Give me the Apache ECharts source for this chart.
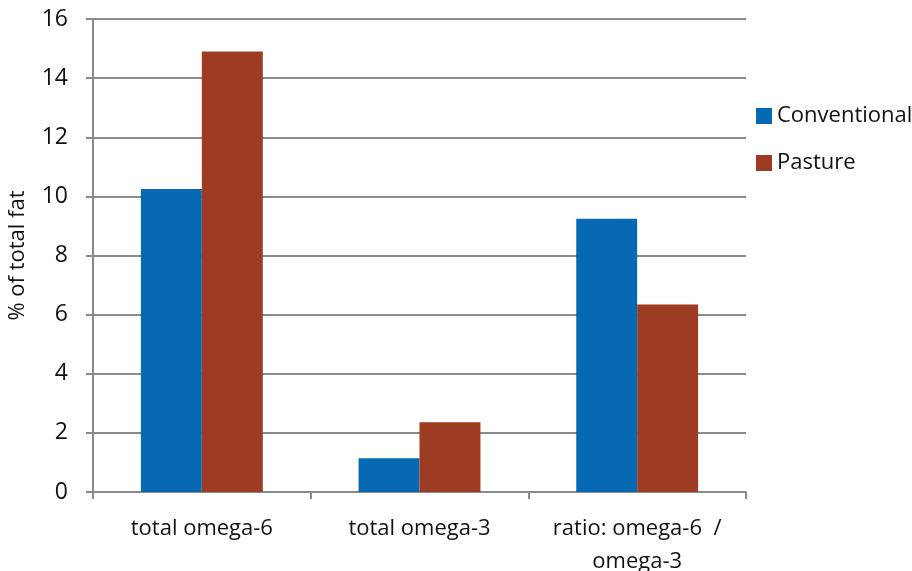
<!DOCTYPE html>
<html>
<head>
<meta charset="utf-8">
<script src="https://cdn.jsdelivr.net/npm/echarts@6/dist/echarts.min.js"></script>
<style>
  html, body { margin: 0; padding: 0; background: #fff; }
  #chart { width: 912px; height: 571px; }
</style>
</head>
<body>
<div id="chart"></div>
<script>
// Fatty-acid composition: conventional vs pasture
const categories = ['total omega-6', 'total omega-3', 'ratio: omega-6  /\nomega-3'];
const conventional = [10.25, 1.14, 9.24];
const pasture = [14.9, 2.36, 6.34];
const yTicks = { min: 0, max: 16, interval: 2 };

const FONT = '"Open Sans", "Noto Sans", sans-serif';
const LINE = '#8a8a8a';

const chart = echarts.init(document.getElementById('chart'), null, { renderer: 'canvas' });
chart.setOption({
  animation: false,
  backgroundColor: '#ffffff',
  grid: { left: 93, right: 166, top: 19, bottom: 79, containLabel: false, outerBoundsMode: 'none' },
  legend: {
    orient: 'vertical',
    left: 751,
    top: 100,
    itemWidth: 16,
    itemHeight: 16,
    itemGap: 25,
    icon: 'rect',
    textStyle: { fontFamily: FONT, fontSize: 22, color: '#111' },
    data: ['Conventional', 'Pasture']
  },
  xAxis: {
    type: 'category',
    data: categories,
    boundaryGap: true,
    axisLine: { lineStyle: { color: LINE, width: 2 } },
    axisTick: { show: true, length: 7, lineStyle: { color: LINE, width: 2 } },
    axisLabel: { interval: 0, hideOverlap: false, fontFamily: FONT, fontSize: 22, color: '#111', margin: 20, lineHeight: 33 }
  },
  yAxis: {
    type: 'value',
    min: yTicks.min,
    max: yTicks.max,
    interval: yTicks.interval,
    name: '% of total fat',
    nameLocation: 'middle',
    nameGap: 64,
    nameRotate: 90,
    nameTextStyle: { fontFamily: FONT, fontSize: 22, color: '#111' },
    axisLine: { show: true, lineStyle: { color: LINE, width: 2 } },
    axisTick: { show: true, length: 7, lineStyle: { color: LINE, width: 2 } },
    axisLabel: { fontFamily: FONT, fontSize: 23, color: '#111', margin: 25 },
    splitLine: { show: true, lineStyle: { color: LINE, width: 2 } }
  },
  series: [
    {
      name: 'Conventional',
      type: 'bar',
      data: conventional,
      barWidth: '28%',
      barGap: '0%',
      itemStyle: { color: '#0769B4' }
    },
    {
      name: 'Pasture',
      type: 'bar',
      data: pasture,
      barWidth: '28%',
      barGap: '0%',
      itemStyle: { color: '#9D3B23' }
    }
  ]
});
</script>
</body>
</html>
